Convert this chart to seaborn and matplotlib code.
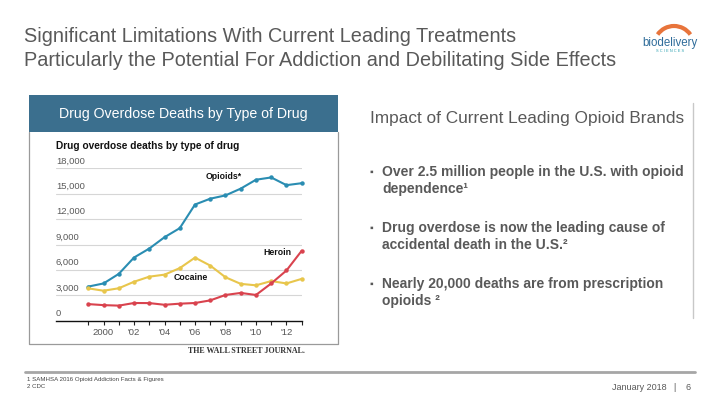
import numpy as np
import pandas as pd
import matplotlib; matplotlib.use("Agg")
import matplotlib.pyplot as plt
from matplotlib.patches import Arc, Rectangle
import seaborn as sns

sns.set_theme(style="white")
plt.rcParams["font.family"] = ["Liberation Sans", "DejaVu Sans"]

# ── data ────────────────────────────────────────────────────────────
YEARS    = list(range(1999, 2014))
OPIOIDS  = [4030, 4400, 5530, 7460, 8520, 9860, 10930, 13720, 14410, 14800,
            15600, 16650, 16920, 16010, 16240]
COCAINE  = [3820, 3540, 3830, 4600, 5200, 5440, 6210, 7450, 6510, 5130,
            4350, 4180, 4680, 4400, 4940]
HEROIN   = [1960, 1840, 1780, 2090, 2080, 1880, 2010, 2090, 2400, 3040,
            3280, 3040, 4400, 5930, 8260]
Y_TICKS  = [0, 3000, 6000, 9000, 12000, 15000, 18000]
X_LABELS = {2000: "2000", 2002: "'02", 2004: "'04", 2006: "'06",
            2008: "'08", 2010: "'10", 2012: "'12"}

SERIES_COLORS = {"Opioids": "#2a8db2", "Cocaine": "#e8c64c", "Heroin": "#d9434e"}

TITLE = ["Significant Limitations With Current Leading Treatments",
         "Particularly the Potential For Addiction and Debilitating Side Effects"]
BULLETS = [("Over 2.5 million people in the U.S. with opioid", "dependence\u00b9"),
           ("Drug overdose is now the leading cause of", "accidental death in the U.S.\u00b2"),
           ("Nearly 20,000 deaths are from prescription", "opioids \u00b2")]

df = pd.DataFrame({"year": YEARS * 3,
                   "deaths": OPIOIDS + COCAINE + HEROIN,
                   "drug": ["Opioids"] * 15 + ["Cocaine"] * 15 + ["Heroin"] * 15})

W, H = 720, 405
fig = plt.figure(figsize=(W / 100, H / 100), dpi=100)
fig.patch.set_facecolor("white")

# background axes in pixel coords for slide furniture
bg = fig.add_axes([0, 0, 1, 1])
bg.set_xlim(0, W); bg.set_ylim(H, 0); bg.axis("off")

GRAY = "#595959"
bg.text(24, 36, TITLE[0], fontsize=14.3, color=GRAY, va="center", ha="left")
bg.text(24, 60, TITLE[1], fontsize=14.3, color=GRAY, va="center", ha="left")

# logo
bg.add_patch(Arc((674, 46), 40, 40, theta1=215, theta2=325, color="#e8743b", lw=3))
bg.text(670, 43, "biodelivery", fontsize=8.3, color="#2f6c9a", ha="center", va="center")
bg.text(670, 51, "S C I E N C E S", fontsize=2.8, color="#2aa0b0", ha="center", va="center")

# chart panel
bg.add_patch(Rectangle((29, 95), 309, 37, color="#3b6f8e", lw=0))
bg.plot([29, 29, 338, 338], [132, 344, 344, 132], color="#9a9a9a", lw=0.9)
bg.text(183.5, 114, "Drug Overdose Deaths by Type of Drug", fontsize=10.2, color="white",
        ha="center", va="center")
bg.text(56, 146, "Drug overdose deaths by type of drug", fontsize=7.3, fontweight="bold",
        color="#111111", ha="left", va="center")
bg.text(305, 351, "THE WALL STREET JOURNAL.", fontsize=5.8, fontweight="bold",
        family="Liberation Serif", color="#333333", ha="right", va="center")

# right column
bg.plot([693, 693], [103, 318], color="#c8c8c8", lw=1)
bg.text(370, 118, "Impact of Current Leading Opioid Brands", fontsize=12.4, color=GRAY,
        ha="left", va="center")
for i, (l1, l2) in enumerate(BULLETS):
    y0 = 172 + i * 56
    bg.text(369, y0, "\u25aa", fontsize=7.5, color=GRAY, ha="left", va="center")
    bg.text(382, y0, l1, fontsize=10, fontweight="bold", color=GRAY, ha="left", va="center")
    bg.text(382, y0 + 17, l2, fontsize=10, fontweight="bold", color=GRAY, ha="left", va="center")

# footer
bg.plot([25, 695], [372, 372], color="#a6a6a6", lw=2)
bg.text(27, 379, "1 SAMHSA 2016 Opioid Addiction Facts & Figures", fontsize=4.4,
        color="#444444", ha="left", va="center")
bg.text(27, 387, "2 CDC", fontsize=4.4, color="#444444", ha="left", va="center")
bg.text(667, 387, "January 2018", fontsize=6.5, color=GRAY, ha="right", va="center")
bg.text(674, 387, "|", fontsize=6.5, color=GRAY, ha="center", va="center")
bg.text(688, 387, "6", fontsize=6.5, color=GRAY, ha="center", va="center")

# ── chart ───────────────────────────────────────────────────────────
x0, x1, y0, y1 = 56, 302, 320.7, 168.3
ax = fig.add_axes([x0 / W, 1 - y0 / H, (x1 - x0) / W, (y0 - y1) / H])
ax.patch.set_alpha(0)
px_per_year = (301.7 - 88.3) / 14
ax.set_xlim(1999 - (88.3 - x0) / px_per_year, 2013 + (x1 - 301.7) / px_per_year)
ax.set_ylim(0, 18000)

for t in Y_TICKS[1:]:
    ax.axhline(t, color="#d6d6d6", lw=0.8, zorder=0)

sns.lineplot(data=df, x="year", y="deaths", hue="drug", palette=SERIES_COLORS,
             marker="o", markersize=3.2, markeredgewidth=0, lw=1.5,
             legend=False, ax=ax, clip_on=False)

for t in Y_TICKS:
    ax.text(0, t + 350, f"{t:,}", transform=ax.get_yaxis_transform(), fontsize=6.8,
            color="#5a5a5a", ha="left", va="bottom")

ax.set_yticks([])
ax.set_xticks(YEARS)
ax.set_xticklabels([X_LABELS.get(y, "") for y in YEARS], fontsize=6.8, color="#555555")
ax.tick_params(axis="x", direction="out", length=3, width=0.8, color="#222222", pad=2.5,
               bottom=True)
for s in ["top", "right", "left"]:
    ax.spines[s].set_visible(False)
ax.spines["bottom"].set_color("#111111")
ax.spines["bottom"].set_linewidth(1.0)
ax.set_xlabel(""); ax.set_ylabel("")

ax.text(2006.7, 17000, "Opioids*", fontsize=6.3, fontweight="bold", color="#111111", va="center")
ax.text(2010.5, 8000, "Heroin", fontsize=6.3, fontweight="bold", color="#111111", va="center")
ax.text(2004.6, 5150, "Cocaine", fontsize=6.3, fontweight="bold", color="#111111", va="center")

fig.savefig("out.png", dpi=100)
